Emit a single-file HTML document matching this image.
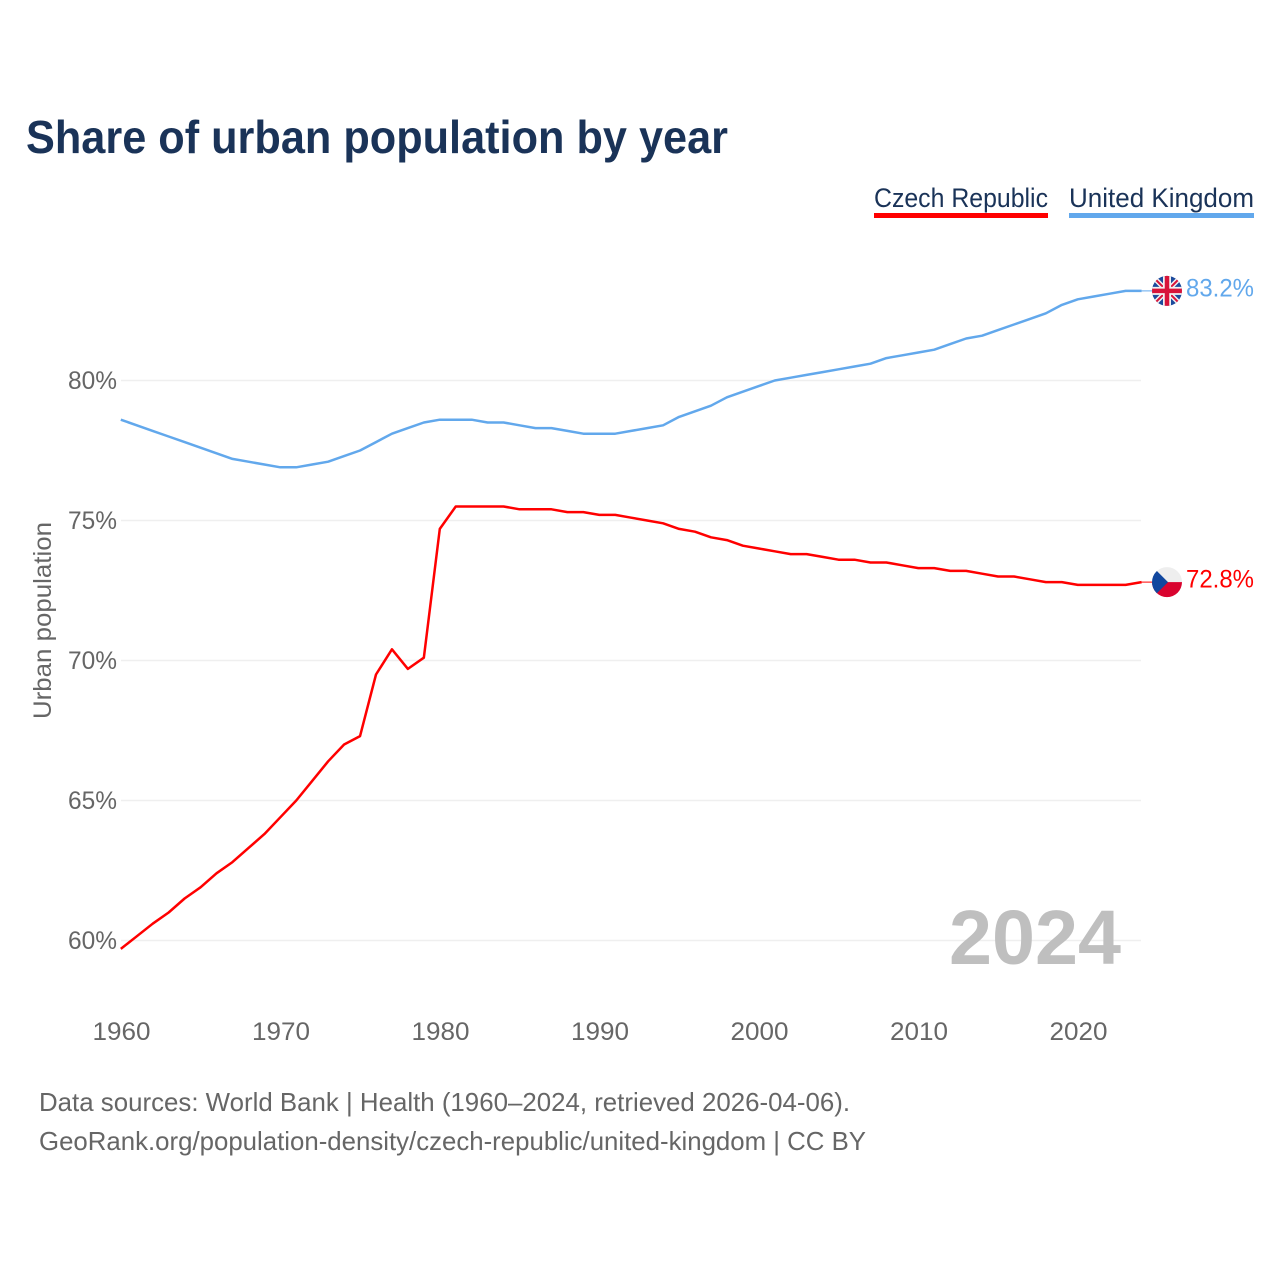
<!DOCTYPE html>
<html lang="en">
<head>
<meta charset="utf-8">
<title>Share of urban population by year</title>
<style>
html,body{margin:0;padding:0;background:#fff;width:1280px;height:1280px;overflow:hidden}
svg{display:block}
text{font-family:"Liberation Sans",sans-serif}
</style>
</head>
<body>
<svg id="chart" xmlns="http://www.w3.org/2000/svg" width="1280" height="1280" viewBox="0 0 1280 1280">
  <defs>
    <clipPath id="flag-clip"><circle cx="0" cy="0" r="15"/></clipPath>
  </defs>
  <rect width="1280" height="1280" fill="#fff"/>
  <text x="26" y="153" font-size="46" font-weight="700" fill="#1a3358" textLength="702" lengthAdjust="spacingAndGlyphs">Share of urban population by year</text>

  <g>
    <text x="874" y="207" font-size="27" fill="#1a3358" textLength="174" lengthAdjust="spacingAndGlyphs">Czech Republic</text>
    <rect x="874" y="213" width="174" height="5" fill="#ff0000"/>
  </g>
  <g>
    <text x="1069" y="207" font-size="27" fill="#1a3358" textLength="185" lengthAdjust="spacingAndGlyphs">United Kingdom</text>
    <rect x="1069" y="213" width="185" height="5" fill="#62a8ec"/>
  </g>

  <g id="grid"></g>
  <g id="y-ticks"></g>
  <g id="x-ticks"></g>
  <text transform="translate(51,620.5) rotate(-90)" text-anchor="middle" font-size="25" fill="#666" textLength="197" lengthAdjust="spacingAndGlyphs">Urban population</text>

  <text x="949" y="964" font-size="77" font-weight="700" fill="#bfbfbf" textLength="172" lengthAdjust="spacingAndGlyphs">2024</text>

  <g id="series"></g>

  <g id="flag-uk">
    <g clip-path="url(#flag-clip)">
      <rect x="-16" y="-16" width="32" height="32" fill="#1c4a9c"/>
      <path d="M-16-16L16 16M16-16L-16 16" stroke="#f2f2f2" stroke-width="5"/>
      <path d="M-16-16L16 16M16-16L-16 16" stroke="#d8143a" stroke-width="2"/>
      <path d="M0-16V16M-16 0H16" stroke="#f2f2f2" stroke-width="8"/>
      <path d="M0-16V16M-16 0H16" stroke="#d8143a" stroke-width="4.5"/>
    </g>
  </g>
  <g id="flag-cz">
    <g clip-path="url(#flag-clip)">
      <rect x="-16" y="-16" width="32" height="16" fill="#eeeeee"/>
      <rect x="-16" y="0" width="32" height="16" fill="#d9042f"/>
      <path d="M-16-16L-15-16L1 0L-15 16L-16 16Z" fill="#11479e"/>
    </g>
  </g>
  <text id="value-uk" x="1186" font-size="25" fill="#62a8ec" textLength="68" lengthAdjust="spacingAndGlyphs"></text>
  <text id="value-cz" x="1186" font-size="25" fill="#ff0000" textLength="68" lengthAdjust="spacingAndGlyphs"></text>

  <text x="39" y="1111" font-size="26" fill="#666" textLength="811" lengthAdjust="spacingAndGlyphs">Data sources: World Bank | Health (1960–2024, retrieved 2026-04-06).</text>
  <text x="39" y="1150" font-size="26" fill="#666" textLength="827" lengthAdjust="spacingAndGlyphs">GeoRank.org/population-density/czech-republic/united-kingdom | CC BY</text>
</svg>
<script>
const startYear = 1960;
const czechValues = [59.7,60.15,60.6,61.0,61.5,61.9,62.4,62.8,63.3,63.8,64.4,65.0,65.7,66.4,67.0,67.3,69.5,70.4,69.7,70.1,74.7,75.5,75.5,75.5,75.5,75.4,75.4,75.4,75.3,75.3,75.2,75.2,75.1,75.0,74.9,74.7,74.6,74.4,74.3,74.1,74.0,73.9,73.8,73.8,73.7,73.6,73.6,73.5,73.5,73.4,73.3,73.3,73.2,73.2,73.1,73.0,73.0,72.9,72.8,72.8,72.7,72.7,72.7,72.7,72.8];
const ukValues = [78.6,78.4,78.2,78.0,77.8,77.6,77.4,77.2,77.1,77.0,76.9,76.9,77.0,77.1,77.3,77.5,77.8,78.1,78.3,78.5,78.6,78.6,78.6,78.5,78.5,78.4,78.3,78.3,78.2,78.1,78.1,78.1,78.2,78.3,78.4,78.7,78.9,79.1,79.4,79.6,79.8,80.0,80.1,80.2,80.3,80.4,80.5,80.6,80.8,80.9,81.0,81.1,81.3,81.5,81.6,81.8,82.0,82.2,82.4,82.7,82.9,83.0,83.1,83.2,83.2];
const yTickValues = [60,65,70,75,80];
const xTickYears = [1960,1970,1980,1990,2000,2010,2020];

const NS = 'http://www.w3.org/2000/svg';
function xScale(year){ return 120.8 + (year - 1960) * 15.95; }
function yScale(v){ return 380.5 - (v - 80) * 28; }
function make(tag, attrs, parent){
  const el = document.createElementNS(NS, tag);
  for (const k in attrs) el.setAttribute(k, attrs[k]);
  parent.appendChild(el);
  return el;
}

const gridG = document.getElementById('grid');
const yG = document.getElementById('y-ticks');
yTickValues.forEach(function(v){
  const line = make('line', {x1:121, x2:1141, y1:yScale(v), y2:yScale(v), stroke:'#efefef', 'stroke-width':1.5}, gridG);
  
  
  const t = make('text', {x:117, y:yScale(v) + 8.5, 'text-anchor':'end', 'font-size':25, fill:'#666', textLength:49, lengthAdjust:'spacingAndGlyphs'}, yG);
  
  
  t.textContent = v + '%';
});

const xG = document.getElementById('x-ticks');
xTickYears.forEach(function(yr){
  const t = make('text', {x:xScale(yr) + 0.7, y:1040, 'text-anchor':'middle', 'font-size':25, fill:'#666', textLength:58, lengthAdjust:'spacingAndGlyphs'}, xG);
  
  
  t.textContent = yr;
});

const seriesG = document.getElementById('series');
function drawSeries(values, color, name, flagId, valueId){
  const pts = values.map(function(v, i){ return xScale(startYear + i).toFixed(2) + ',' + yScale(v).toFixed(2); }).join(' ');
  const line = make('polyline', {points:pts, fill:'none', stroke:color, 'stroke-width':2.5, 'stroke-linejoin':'round'}, seriesG);
  
  
  const last = values[values.length - 1];
  const lastX = xScale(startYear + values.length - 1);
  const ly = yScale(last);
  const leader = make('line', {x1:lastX, x2:1153, y1:ly, y2:ly, stroke:color, 'stroke-width':1}, seriesG);
  
  
  document.getElementById(flagId).setAttribute('transform', 'translate(1167,' + ly + ')');
  const label = document.getElementById(valueId);
  label.setAttribute('y', ly + 5.5);
  label.textContent = last.toFixed(1) + '%';
}
drawSeries(ukValues, '#62a8ec', 'united-kingdom', 'flag-uk', 'value-uk');
drawSeries(czechValues, '#ff0000', 'czech-republic', 'flag-cz', 'value-cz');
</script>
</body>
</html>
